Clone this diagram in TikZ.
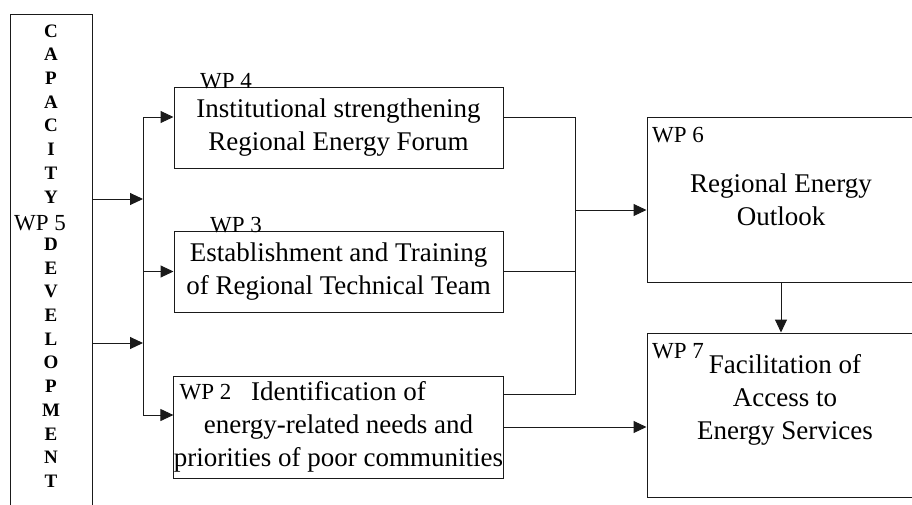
\documentclass[tikz,border=0pt]{standalone}
\usepackage{fontspec}
\setmainfont{Liberation Serif}
\usepackage{xcolor}
\usetikzlibrary{arrows.meta}
\definecolor{wpdark}{HTML}{1a1a1a}

\begin{document}
\begin{tikzpicture}[x=1pt, y=-1pt,
		wpbox/.style={draw=wpdark, line width=1pt, rectangle, inner sep=0pt, align=center, font=\fontsize{27}{33}\selectfont},
		wptag/.style={inner sep=0pt, font=\fontsize{23}{26}\selectfont},
		flow/.style={draw=wpdark, line width=1pt, -{Triangle[length=13pt, width=12pt]}},
		bus/.style={draw=wpdark, line width=1pt}]
		\clip (0,0) rectangle (912,504);
		% boxes
		\node[wpbox, minimum width=82pt, minimum height=546pt] (wpfive) at (51,287) {};
		\node[wpbox, minimum width=329pt, minimum height=81pt] (wpfour) at (338.5,127.5) {Institutional strengthening\\Regional Energy Forum};
		\node[wpbox, minimum width=329pt, minimum height=81pt] (wpthree) at (338.5,271.5) {Establishment and Training\\of Regional Technical Team};
		\node[wpbox, minimum width=329pt, minimum height=102pt] (wptwo) at (338.5,427) {Identification of\\energy-related needs and\\priorities of poor communities};
		\node[wpbox, minimum width=268pt, minimum height=165pt] (wpsix) at (781,199.5) {Regional Energy\\Outlook};
		\node[wpbox, minimum width=268pt, minimum height=164pt] (wpseven) at (781,415) {};
		\node[align=center, inner sep=0pt, font=\fontsize{27}{33}\selectfont] (wpseventext) at (785,400) {Facilitation of\\Access to\\Energy Services};
		% stacked letters of the left box
		\node[align=center, inner sep=0pt, font=\fontsize{19}{23.7}\selectfont\bfseries] (capdev) at (51,256) {C\\A\\P\\A\\C\\I\\T\\Y\\[23.7pt]D\\E\\V\\E\\L\\O\\P\\M\\E\\N\\T};
		% work package tags
		\node[wptag] (tagfive) at (40,223) {WP 5};
		\node[wptag] (tagfour) at (226,81) {WP 4};
		\node[wptag] (tagthree) at (236,225) {WP 3};
		\node[wptag] (tagtwo) at (205.5,392) {WP 2};
		\node[wptag] (tagsix) at (678,135) {WP 6};
		\node[wptag] (tagseven) at (678,351) {WP 7};
		% left bus
		\coordinate (lbtop) at (143,117);
		\coordinate (lbbot) at (143,415);
		\coordinate (lbup) at (143,199);
		\coordinate (lblow) at (143,343);
		\draw[bus] (lbtop) -- (lbbot);
		\draw[flow] (lbup -| wpfive.east) -- (lbup);
		\draw[flow] (lblow -| wpfive.east) -- (lblow);
		\draw[flow] (lbtop) -- (lbtop -| wpfour.west);
		\draw[flow] (lbtop |- wpthree.west) -- (wpthree.west);
		\draw[flow] (lbbot) -- (lbbot -| wptwo.west);
		% right bus
		\coordinate (rbtop) at (575,117);
		\coordinate (rbbot) at (575,394);
		\coordinate (rbmid) at (575,210);
		\draw[bus] (rbtop -| wpfour.east) -- (rbtop) -- (rbbot) -- (rbbot -| wptwo.east);
		\draw[bus] (wpthree.east) -- (wpthree.east -| rbtop);
		\draw[flow] (rbmid) -- (rbmid -| wpsix.west);
		\draw[flow] (wpsix.south) -- (wpseven.north);
		\draw[flow] (wptwo.east) -- (wptwo.east -| wpseven.west);
	\end{tikzpicture}
\end{document}
